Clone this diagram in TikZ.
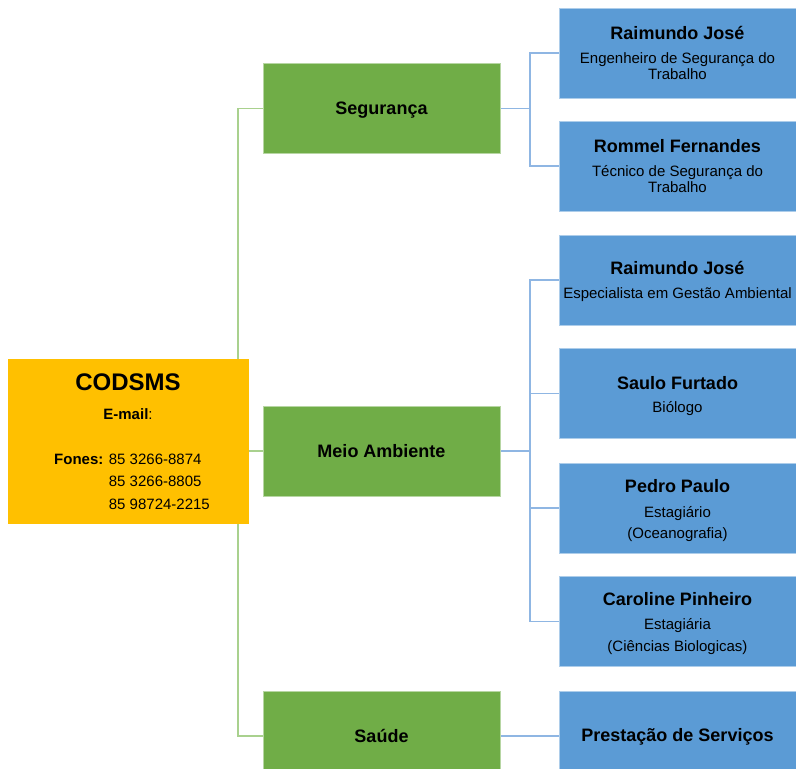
\documentclass[tikz,border=0pt]{standalone}
\usepackage{fontspec}
\setmainfont{Liberation Sans}
\usetikzlibrary{backgrounds}
\definecolor{orgyellow}{HTML}{FFC000}
\definecolor{orggreen}{HTML}{70AD47}
\definecolor{orgblue}{HTML}{5B9BD5}
\definecolor{glink}{HTML}{A9D18E}
\definecolor{blink}{HTML}{8FB6E3}
\newcommand\orgname[1]{{\fontsize{18}{20}\selectfont\bfseries #1}}
\begin{document}
\begin{tikzpicture}[x=1pt,y=-1pt,
  box/.style={minimum width=237pt,minimum height=90pt,inner sep=0pt,outer sep=0pt,line width=0.8pt},
  greenbox/.style={box,fill=orggreen,draw=orggreen!50!white},
  bluebox/.style={box,fill=orgblue,draw=orgblue!50!white},
  gtext/.style={inner sep=0pt,align=center,font=\fontsize{18}{20}\selectfont\bfseries},
  btext/.style={inner sep=0pt,align=center,font=\fontsize{15}{16}\selectfont},
  glinkst/.style={draw=glink,line width=1.2pt},
  blinkst/.style={draw=blink,line width=1.5pt}]
\useasboundingbox (0,0) rectangle (796,769);
\clip (0,0) rectangle (796,769);

% main box
\node[box,fill=orgyellow,draw=orgyellow,minimum width=240pt,minimum height=164pt] (cod) at (128,441) {};
\node[inner sep=0pt,align=center,font=\fontsize{15}{22.5}\selectfont] (codt) at ([yshift=-4pt]cod.center)
  {{\fontsize{24}{26}\selectfont\bfseries CODSMS}\\[6.8pt]
   \textbf{E-mail}:\\[22pt]
   \begin{tabular}[t]{@{\hspace{8pt}}r@{ }l@{}}\textbf{Fones:} & 85 3266-8874\\ & 85 3266-8805\\ & 85 98724-2215\end{tabular}};

% departments
\node[greenbox] (seg) at (381.5,108.5) {};
\node[gtext] (segt) at ([yshift=-2pt]seg.center) {Segurança};
\node[greenbox] (meio) at (381.5,451) {};
\node[gtext] (meiot) at (meio.center) {Meio Ambiente};
\node[greenbox] (saude) at (381.5,736) {};
\node[gtext] (saudet) at (saude.center) {Saúde};

% people
\node[bluebox] (r1) at (677.5,53) {};
\node[btext] (r1t) at (r1.center) {\orgname{Raimundo José}\\[8pt]Engenheiro de Segurança do\\Trabalho};
\node[bluebox] (rom) at (677.5,166) {};
\node[btext] (romt) at (rom.center) {\orgname{Rommel Fernandes}\\[8pt]Técnico de Segurança do\\Trabalho};
\node[bluebox] (r2) at (677.5,280) {};
\node[btext] (r2t) at ([yshift=-1pt]r2.center) {\orgname{Raimundo José}\\[8pt]Especialista em Gestão Ambiental};
\node[bluebox] (saulo) at (677.5,393.5) {};
\node[btext] (saulot) at ([yshift=-3pt]saulo.center) {\orgname{Saulo Furtado}\\[7pt]Biólogo};
\node[bluebox] (pedro) at (677.5,508) {};
\node[btext] (pedrot) at ([yshift=-3pt]pedro.center) {\orgname{Pedro Paulo}\\[8.5pt]Estagiário\\[5.5pt](Oceanografia)};
\node[bluebox] (carol) at (677.5,621.5) {};
\node[btext] (carolt) at ([yshift=-2pt]carol.center) {\orgname{Caroline Pinheiro}\\[8pt]Estagiária\\[5.5pt](Ciências Biologicas)};
\node[bluebox] (prest) at (677.5,736) {};
\node[btext] (prestt) at ([yshift=-1pt]prest.center) {\orgname{Prestação de Serviços}};

\coordinate (gx) at (238,0);
\coordinate (bx) at (530,0);

\begin{scope}[on background layer]
  % green connectors
  \draw[glinkst] (seg.west) -- (seg.west -| gx) -- (saude.west -| gx) -- (saude.west);
  \draw[glinkst] (meio.west) -- (meio.west -| cod.east);
  % blue connectors
  \draw[blinkst] (seg.east) -- (seg.east -| bx);
  \draw[blinkst] (r1.west) -- (r1.west -| bx) -- (rom.west -| bx) -- (rom.west);
  \draw[blinkst] (meio.east) -- (meio.east -| bx);
  \draw[blinkst] (r2.west) -- (r2.west -| bx) -- (carol.west -| bx) -- (carol.west);
  \draw[blinkst] (saulo.west) -- (saulo.west -| bx);
  \draw[blinkst] (pedro.west) -- (pedro.west -| bx);
  \draw[blinkst] (saude.east) -- (prest.west);
\end{scope}
\end{tikzpicture}
\end{document}
